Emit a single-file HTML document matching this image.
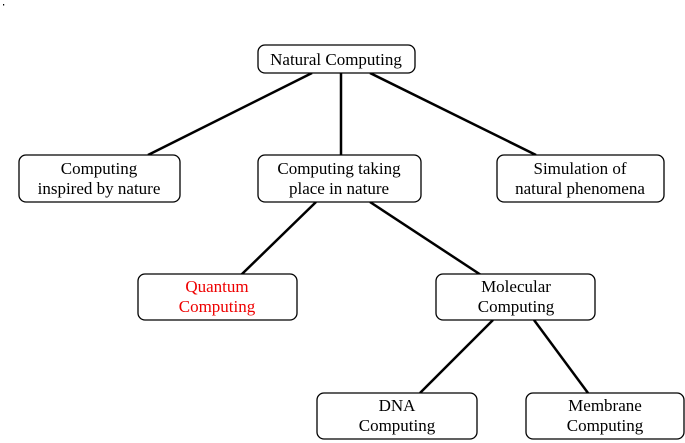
<!DOCTYPE html>
<html><head><style>
body{margin:0;background:#fff;}
svg{display:block;}
svg text{font-family:"Liberation Serif","DejaVu Serif",serif;font-size:17px;text-anchor:middle;fill:#000;}
rect{fill:#fff;stroke:#000;stroke-width:1.3;}
line{stroke:#000;stroke-width:2.5;}
</style></head><body>
<svg width="685" height="443" viewBox="0 0 685 443" font-family="Liberation Serif, serif">
<rect x="3" y="4" width="1.2" height="1.5" style="fill:#000;stroke:none"/>
<line x1="312" y1="73" x2="148" y2="155"/>
<line x1="341" y1="73" x2="341" y2="155"/>
<line x1="370" y1="73" x2="536" y2="155"/>
<line x1="316" y1="202" x2="241" y2="275"/>
<line x1="370" y1="202" x2="481" y2="275"/>
<line x1="493" y1="320" x2="420" y2="393"/>
<line x1="534" y1="320" x2="588" y2="393"/>
<rect x="258" y="45" width="157" height="28" rx="7"/>
<text x="336" y="65">Natural Computing</text>
<rect x="19" y="155" width="161" height="47" rx="7"/>
<text x="99" y="174">Computing</text><text x="99" y="194">inspired by nature</text>
<rect x="258" y="155" width="163" height="47" rx="7"/>
<text x="339" y="174">Computing taking</text><text x="339" y="194">place in nature</text>
<rect x="497" y="155" width="167" height="47" rx="7"/>
<text x="580" y="174">Simulation of</text><text x="580" y="194">natural phenomena</text>
<rect x="138" y="274" width="159" height="46" rx="7"/>
<text x="217" y="292" style="fill:#e00">Quantum</text><text x="217" y="312" style="fill:#e00">Computing</text>
<rect x="436" y="274" width="159" height="46" rx="7"/>
<text x="516" y="292">Molecular</text><text x="516" y="312">Computing</text>
<rect x="317" y="393" width="160" height="46" rx="7"/>
<text x="397" y="411">DNA</text><text x="397" y="431">Computing</text>
<rect x="526" y="393" width="158" height="46" rx="7"/>
<text x="605" y="411">Membrane</text><text x="605" y="431">Computing</text>
</svg>
</body></html>
